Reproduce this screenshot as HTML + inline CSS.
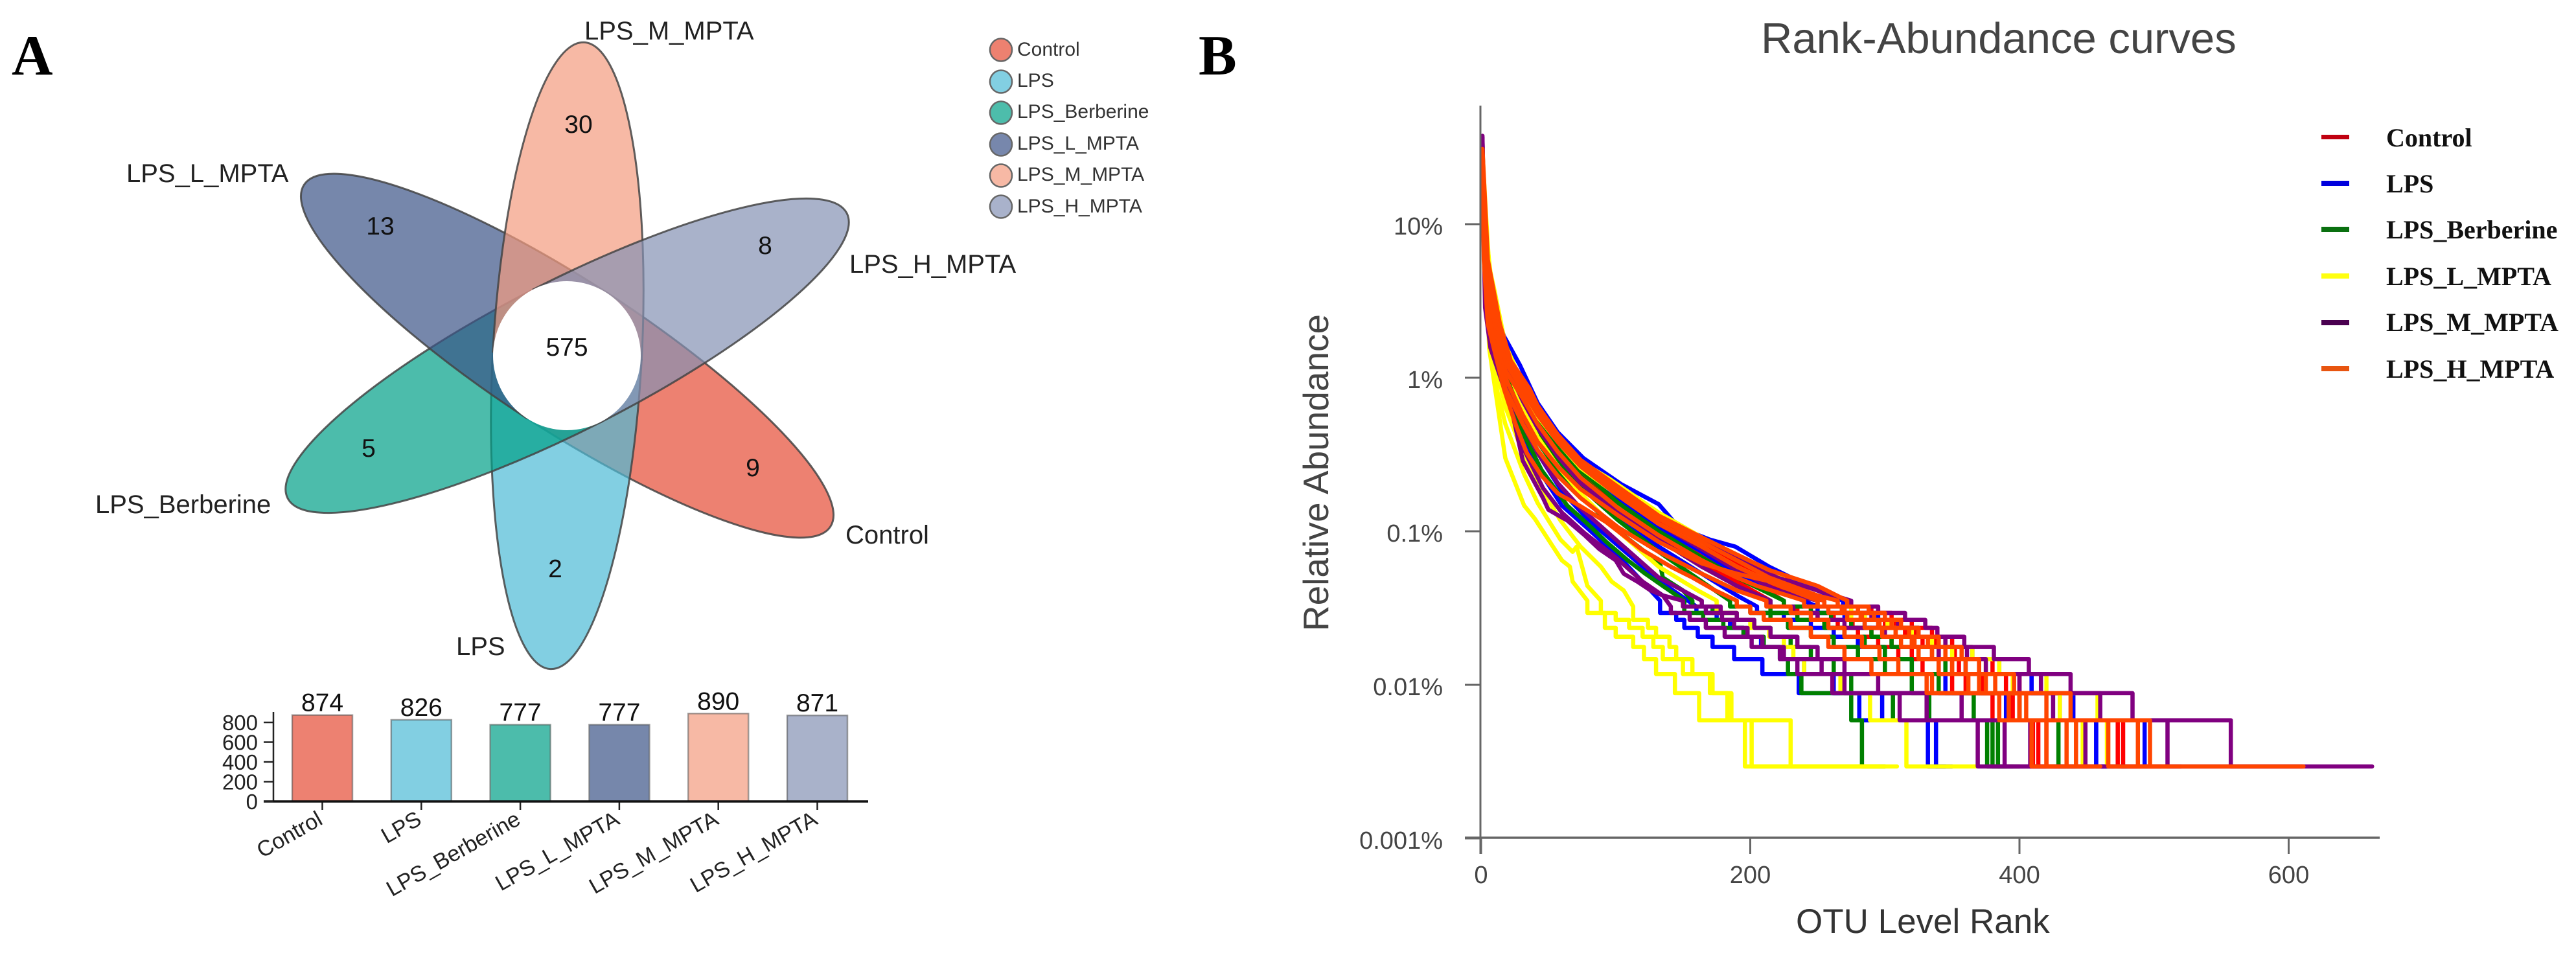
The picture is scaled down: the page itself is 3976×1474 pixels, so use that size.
<!DOCTYPE html>
<html lang="en">
<head>
<meta charset="utf-8">
<title>Venn flower and rank-abundance curves</title>
<style>
html,body{margin:0;padding:0;background:#fff;}
svg{display:block;}
text{font-family:"Liberation Sans",Arial,sans-serif;}
.panel{font-family:"Liberation Serif",serif;font-weight:bold;font-size:88px;fill:#000;}
.lab{font-size:40px;fill:#222;}
.num{font-size:39px;fill:#111;text-anchor:middle;}
.lega{font-size:30px;fill:#333;}
.legb{font-family:"Liberation Serif",serif;font-weight:bold;font-size:40px;fill:#111;}
</style>
</head>
<body>
<svg id="fig" xmlns="http://www.w3.org/2000/svg" width="3976" height="1474" viewBox="0 0 3976 1474">
<rect width="3976" height="1474" fill="#fff"/>
<text class="panel" x="18" y="115">A</text>
<text class="panel" x="1850" y="115">B</text>

<g id="venn" fill-opacity="0.7" stroke="#444" stroke-opacity="0.85" stroke-width="3">
<path fill="#E64B35" transform="translate(875.5 549) rotate(33)" d="M0 -115 A484.5 115 0 0 1 0 115 Z"/>
<path fill="#4DBBD5" transform="translate(875.5 549) rotate(93.1)" d="M0 -115 A484.5 115 0 0 1 0 115 Z"/>
<path fill="#00A087" transform="translate(875.5 549) rotate(153)" d="M0 -115 A484.5 115 0 0 1 0 115 Z"/>
<path fill="#3C5488" transform="translate(875.5 549) rotate(213)" d="M0 -115 A484.5 115 0 0 1 0 115 Z"/>
<path fill="#F39B7F" transform="translate(875.5 549) rotate(-86.9)" d="M0 -115 A484.5 115 0 0 1 0 115 Z"/>
<path fill="#8491B4" transform="translate(875.5 549) rotate(-27)" d="M0 -115 A484.5 115 0 0 1 0 115 Z"/>
</g>
<ellipse cx="875" cy="549" rx="114" ry="115" fill="#fff"/>

<text class="lab" x="902" y="61">LPS_M_MPTA</text>
<text class="lab" x="195" y="281">LPS_L_MPTA</text>
<text class="lab" x="1311" y="421">LPS_H_MPTA</text>
<text class="lab" x="147" y="792">LPS_Berberine</text>
<text class="lab" x="1305" y="839">Control</text>
<text class="lab" x="704" y="1011">LPS</text>

<text class="num" x="893" y="205">30</text>
<text class="num" x="587" y="362">13</text>
<text class="num" x="1181" y="392">8</text>
<text class="num" x="875" y="549">575</text>
<text class="num" x="1162" y="735">9</text>
<text class="num" x="569" y="705">5</text>
<text class="num" x="857" y="891">2</text>

<g stroke="#666" stroke-width="2.5">
<ellipse cx="1545" cy="77" rx="17" ry="17.5" fill="#ED8170"/>
<ellipse cx="1545" cy="126" rx="17" ry="17.5" fill="#82CFE2"/>
<ellipse cx="1545" cy="174" rx="17" ry="17.5" fill="#4DBDAB"/>
<ellipse cx="1545" cy="223" rx="17" ry="17.5" fill="#7787AC"/>
<ellipse cx="1545" cy="271" rx="17" ry="17.5" fill="#F7B9A5"/>
<ellipse cx="1545" cy="319" rx="17" ry="17.5" fill="#A9B2CB"/>
</g>
<text class="lega" x="1570" y="86">Control</text>
<text class="lega" x="1570" y="134">LPS</text>
<text class="lega" x="1570" y="182">LPS_Berberine</text>
<text class="lega" x="1570" y="231">LPS_L_MPTA</text>
<text class="lega" x="1570" y="279">LPS_M_MPTA</text>
<text class="lega" x="1570" y="328">LPS_H_MPTA</text>

<g id="barChart"></g>

<g id="rankChart">
<text x="2718" y="82" font-size="67" fill="#444">Rank-Abundance curves</text>
<text transform="translate(2050 729.5) rotate(-90)" text-anchor="middle" font-size="55" fill="#444">Relative Abundance</text>
<text x="2772" y="1440" font-size="53" fill="#333">OTU Level Rank</text>
</g>

<g>
<rect x="3583" y="208" width="43" height="7" fill="#C00010"/>
<rect x="3583" y="279" width="43" height="8" fill="#0000DD"/>
<rect x="3583" y="350" width="43" height="8" fill="#0A7010"/>
<rect x="3583" y="422" width="43" height="8" fill="#FFFF10"/>
<rect x="3583" y="494" width="43" height="8" fill="#4A0050"/>
<rect x="3583" y="565" width="43" height="8" fill="#E85510"/>
<text class="legb" x="3683" y="226">Control</text>
<text class="legb" x="3683" y="297">LPS</text>
<text class="legb" x="3683" y="368">LPS_Berberine</text>
<text class="legb" x="3683" y="440">LPS_L_MPTA</text>
<text class="legb" x="3683" y="511">LPS_M_MPTA</text>
<text class="legb" x="3683" y="583">LPS_H_MPTA</text>
</g>
</svg>

<script>
/* ---------- bar chart data ---------- */
const barGroups = ["Control","LPS","LPS_Berberine","LPS_L_MPTA","LPS_M_MPTA","LPS_H_MPTA"];
const barValues = [874,826,777,777,890,871];
const barTicks = [0,200,400,600,800];
const barColors = ["#E64B35","#4DBBD5","#00A087","#3C5488","#F39B7F","#8491B4"];

/* ---------- rank-abundance data: each curve is [OTU rank, read count] ---------- */
const readsPerPercent = 340;
const percentTicks = [10,1,0.1,0.01,0.001];
const percentTickLabels = ["10%","1%","0.1%","0.01%","0.001%"];
const rankTicks = [0,200,400,600];

const controlCurves = [
[[1,10300],[2,5000],[5,1800],[10,1000],[18,470],[31,300],[42,205],[57,135],[74,92],[102,60],[132,40],[164,28],[190,21],[220,15],[250,12],[270,11],[285,10],[300,9],[315,8],[328,7],[340,6],[355,5],[372,4],[395,3],[414,2],[430,1]],
[[1,10000],[2,4500],[5,1650],[10,930],[18,440],[31,270],[42,185],[57,120],[74,82],[102,52],[132,34],[164,24],[190,18],[225,12],[245,11],[262,10],[276,9],[290,8],[305,7],[320,6],[340,5],[360,4],[400,3],[420,2],[440,1]],
[[1,10200],[2,5200],[5,1900],[10,1000],[18,480],[31,305],[42,215],[57,140],[74,96],[102,63],[132,42],[164,30],[190,23],[214,18],[250,14],[272,12],[290,11],[305,10],[320,9],[335,8],[350,7],[365,6],[380,5],[400,4],[440,3],[473,2],[490,1]],
[[1,10100],[2,4800],[5,1750],[10,960],[18,450],[31,285],[42,195],[57,128],[74,88],[102,56],[132,37],[164,26],[190,20],[225,14],[255,12],[275,11],[292,10],[308,9],[322,8],[338,7],[352,6],[370,5],[390,4],[430,3],[477,2],[495,1]],
[[1,9800],[2,4200],[5,1500],[10,800],[18,400],[31,240],[42,160],[57,105],[74,72],[102,46],[132,30],[164,21],[190,16],[215,12],[235,11],[250,10],[265,9],[280,8],[295,7],[310,6],[328,5],[350,4],[380,3],[410,2],[425,1]]
];

const lpsCurves = [
[[1,10000],[2,5000],[5,1800],[8,1100],[17,635],[29,409],[42,233],[57,150],[76,102],[104,69],[132,51],[147,36],[170,30],[189,27],[214,20],[250,14],[269,12],[295,10],[310,9],[325,8],[345,7],[365,6],[385,5],[409,4],[430,3],[457,2],[480,1]],
[[1,9500],[2,3000],[5,1300],[8,550],[20,260],[33,130],[45,80],[60,50],[80,35],[105,22],[133,12],[145,10],[151,9],[161,8],[172,7],[188,6],[209,5],[236,4],[281,3],[332,2],[345,1]],
[[1,9800],[2,3200],[5,1400],[8,650],[20,300],[33,160],[45,100],[60,62],[80,40],[105,26],[133,16],[160,11],[175,10],[185,9],[195,8],[208,7],[222,6],[240,5],[262,4],[298,3],[338,2],[350,1]],
[[1,10000],[2,4000],[5,1600],[10,800],[18,400],[31,240],[42,150],[57,100],[74,68],[102,42],[132,27],[164,18],[190,13],[205,11],[225,10],[245,9],[262,8],[280,7],[300,6],[320,5],[345,4],[390,3],[457,2],[470,1]],
[[1,10000],[2,4500],[5,1700],[10,950],[18,480],[31,290],[42,190],[57,125],[74,85],[102,56],[132,36],[164,25],[190,18],[230,13],[250,11],[270,10],[285,9],[300,8],[320,7],[340,6],[360,5],[409,4],[440,3],[493,2],[505,1]]
];

const berberineCurves = [
[[1,9500],[2,3000],[5,1300],[8,600],[18,280],[31,150],[45,85],[64,50],[82,36],[93,29],[109,22],[122,18],[135,15],[151,12],[165,10],[180,9],[195,8],[210,7],[222,6],[228,5],[238,4],[275,3],[283,2],[300,1]],
[[1,9800],[2,3500],[5,1500],[10,700],[18,380],[31,200],[42,130],[57,85],[74,58],[102,34],[133,21],[135,17],[150,14],[157,12],[172,11],[190,10],[203,9],[215,8],[230,7],[245,6],[262,5],[275,4],[306,3],[376,2],[390,1]],
[[1,10000],[2,3600],[5,1550],[10,750],[18,400],[31,225],[42,150],[57,100],[74,66],[102,40],[132,25],[164,16],[185,12],[200,11],[215,10],[228,9],[245,8],[262,7],[280,6],[300,5],[320,4],[333,3],[380,2],[395,1]],
[[1,10000],[2,4000],[5,1700],[10,850],[18,450],[31,260],[42,175],[57,115],[74,78],[102,47],[132,30],[164,20],[190,15],[215,12],[235,10],[255,9],[270,8],[285,7],[300,6],[320,5],[340,4],[366,3],[384,2],[400,1]],
[[1,10000],[2,4200],[5,1750],[10,900],[18,470],[31,280],[42,190],[57,125],[74,85],[102,52],[132,34],[164,23],[190,17],[225,12],[245,11],[260,10],[275,9],[290,8],[305,7],[325,6],[345,5],[370,4],[400,3],[429,2],[445,1]]
];

const lMptaCurves = [
[[1,10500],[3,3000],[4,1500],[6,530],[18,102],[32,50],[40,41],[50,30],[60,22],[66,20],[68,16],[79,12],[92,10],[100,8],[113,7],[121,6],[130,5],[144,4],[162,3],[196,2],[300,1]],
[[1,10500],[3,3500],[4,1700],[6,700],[12,280],[18,170],[32,80],[42,52],[59,30],[68,25],[71,27],[79,15],[89,12],[100,10],[110,9],[120,8],[128,7],[135,6],[157,5],[170,4],[186,3],[230,2],[309,1]],
[[1,10500],[3,3800],[4,1900],[7,800],[12,380],[18,220],[32,105],[42,70],[59,40],[74,27],[89,20],[97,16],[106,14],[113,11],[124,9],[130,8],[140,7],[145,6],[150,5],[172,4],[183,3],[201,2],[295,1]],
[[1,10500],[2,5000],[4,2200],[10,1000],[18,420],[31,220],[42,140],[57,90],[74,60],[102,34],[132,20],[161,14],[175,12],[190,10],[200,9],[214,8],[225,7],[232,6],[240,5],[267,4],[289,3],[316,2],[368,1]],
[[1,10800],[2,7000],[4,3500],[6,1800],[10,1250],[18,560],[31,310],[42,215],[57,140],[74,97],[95,75],[132,45],[164,31],[190,24],[214,19],[250,12],[275,11],[302,9],[320,8],[335,7],[350,6],[375,5],[395,4],[430,3],[447,2],[460,1]],
[[1,10500],[2,6000],[4,2800],[10,950],[18,450],[31,280],[42,190],[57,130],[74,88],[102,58],[132,38],[164,27],[190,20],[214,16],[250,12],[268,11],[285,10],[305,9],[325,8],[345,7],[365,6],[385,5],[420,4],[458,3],[465,2],[475,1]]
];

const mMptaCurves = [
[[1,11000],[2,2500],[3,971],[7,531],[23,205],[31,98],[46,56],[50,47],[64,40],[77,32],[88,26],[100,22],[106,18],[116,16],[126,14],[135,13],[141,11],[155,10],[167,9],[181,8],[201,7],[222,6],[253,5],[261,4],[331,3],[369,2],[420,1]],
[[1,12000],[2,3000],[4,1000],[7,560],[20,250],[31,120],[46,65],[60,45],[77,33],[100,23],[120,16],[135,13],[150,12],[167,11],[179,10],[188,9],[198,8],[209,7],[225,6],[235,5],[270,4],[311,3],[389,2],[450,1]],
[[1,12500],[2,3500],[4,1300],[10,600],[18,330],[31,170],[42,110],[57,70],[74,48],[102,29],[132,17],[164,12],[178,11],[190,10],[203,9],[215,8],[235,7],[250,6],[270,5],[295,4],[357,3],[408,2],[455,1]],
[[1,12000],[2,4000],[4,1500],[10,800],[18,420],[31,240],[42,160],[57,105],[74,70],[102,45],[132,30],[164,20],[190,15],[215,12],[232,11],[250,10],[270,9],[300,8],[320,7],[340,6],[370,5],[400,4],[425,3],[449,2],[520,1]],
[[1,12500],[2,4500],[4,1700],[10,950],[18,470],[31,290],[42,195],[57,130],[74,90],[102,58],[132,38],[164,26],[190,19],[220,14],[250,12],[270,11],[290,10],[310,9],[325,8],[345,7],[361,6],[375,5],[416,4],[460,3],[510,2],[610,1]],
[[1,12800],[2,5000],[4,1800],[10,1000],[18,500],[31,310],[42,215],[57,140],[74,96],[102,64],[132,42],[164,30],[190,23],[220,17],[250,14],[275,12],[295,11],[315,10],[330,9],[339,8],[359,7],[381,6],[407,5],[438,4],[484,3],[557,2],[662,1]]
];

const hMptaCurves = [
[[1,10500],[2,7000],[5,2000],[14,760],[22,440],[36,288],[42,224],[57,145],[74,99],[102,66],[132,43],[164,31],[190,24],[214,19],[250,15],[272,12],[288,11],[300,10],[312,9],[325,8],[340,7],[357,6],[370,5],[396,4],[438,3],[497,2],[611,1]],
[[1,10400],[2,6000],[5,1900],[12,800],[20,440],[31,300],[42,215],[57,140],[74,95],[102,62],[132,41],[164,29],[190,22],[214,17],[250,13],[265,12],[280,11],[292,10],[305,9],[318,8],[332,7],[345,6],[360,5],[382,4],[405,3],[466,2],[500,1]],
[[1,10300],[2,5000],[5,1700],[10,900],[18,430],[31,280],[42,195],[57,130],[74,90],[102,58],[132,38],[164,27],[190,20],[214,16],[250,12],[268,11],[282,10],[295,9],[308,8],[320,7],[335,6],[350,5],[370,4],[400,3],[488,2],[510,1]],
[[1,10500],[2,2000],[5,760],[11,468],[17,288],[25,175],[34,110],[45,78],[57,60],[73,50],[93,39],[119,26],[141,20],[157,17],[174,14],[190,12],[200,11],[210,10],[230,9],[245,8],[258,7],[270,6],[290,5],[331,4],[385,3],[409,2],[425,1]],
[[1,10200],[2,4000],[5,1400],[10,800],[18,380],[31,250],[42,170],[57,112],[74,76],[102,48],[132,32],[164,22],[190,17],[205,15],[240,12],[258,11],[272,10],[285,9],[298,8],[312,7],[325,6],[340,5],[362,4],[400,3],[435,2],[450,1]],
[[1,10000],[2,3200],[5,1150],[10,660],[18,340],[31,195],[42,130],[57,90],[74,64],[102,43],[132,29],[164,21],[190,18],[215,16],[255,12],[270,11],[283,10],[296,9],[308,8],[322,7],[335,6],[350,5],[375,4],[420,3],[442,2],[460,1]],
[[1,10100],[2,2600],[5,950],[10,560],[18,290],[31,170],[42,115],[57,78],[74,56],[102,36],[132,25],[164,18],[190,14],[212,12],[230,11],[245,10],[258,9],[270,8],[283,7],[296,6],[310,5],[335,4],[392,3],[420,2],[435,1]]
];

const curveColors = ["#FF0000","#0000FF","#008000","#FFFF00","#800080","#FF4500"];
const curveGroupNames = ["control","lps","lps-berberine","lps-l-mpta","lps-m-mpta","lps-h-mpta"];
const curveGroups = [controlCurves,lpsCurves,berberineCurves,lMptaCurves,mMptaCurves,hMptaCurves];

/* ---------- helpers ---------- */
const NS = "http://www.w3.org/2000/svg";
function mk(parent, tag, attrs, txt){
  const el = document.createElementNS(NS, tag);
  for (const k in attrs) el.setAttribute(k, attrs[k]);
  if (txt !== undefined) el.textContent = txt;
  parent.appendChild(el);
  return el;
}

/* ---------- bar chart scales ---------- */
const barX = i => 497.5 + 152.8 * i;
const barY = v => 1237 - 0.1525 * v;
const barG = document.getElementById("barChart");

barValues.forEach((v, i) => {
  const cx = barX(i);
  const bar = mk(barG, "rect", {x: cx - 46.5, y: barY(v), width: 93, height: barY(0) - barY(v), fill: barColors[i], "fill-opacity": 0.7, stroke: "#555", "stroke-opacity": 0.55, "stroke-width": 2.5});
  
  
  const val = mk(barG, "text", {x: cx, y: barY(v) - 6, "text-anchor": "middle", "font-size": 39, fill: "#111"}, String(v));
  
  
  const tick = mk(barG, "line", {x1: cx, x2: cx, y1: barY(0), y2: barY(0) + 13, stroke: "#222", "stroke-width": 2.5});
  
  
  const lab = mk(barG, "text", {transform: "translate(" + (cx + 2.5) + " 1271) rotate(-29.5)", "text-anchor": "end", "font-size": 34, fill: "#222"}, barGroups[i]);
  
  
});
const barYAxis = mk(barG, "line", {x1: 422, x2: 422, y1: 1099, y2: 1237, stroke: "#222", "stroke-width": 2.5});


const barXAxis = mk(barG, "line", {x1: 407, x2: 1340, y1: 1237, y2: 1237, stroke: "#111", "stroke-width": 3.5});


barTicks.forEach(t => {
  const tk = mk(barG, "line", {x1: 407, x2: 422, y1: barY(t), y2: barY(t), stroke: "#222", "stroke-width": 2.5});
  
  
  const lb = mk(barG, "text", {x: 398, y: barY(t) + 12, "text-anchor": "end", "font-size": 33, fill: "#222"}, String(t));
  
  
});

/* ---------- rank-abundance scales ---------- */
const rankX = r => 2286 + 2.0775 * r;
const readsY = c => 1183 - 237 * Math.log10(c);
const rankG = document.getElementById("rankChart");

function curvePath(pts){
  let d = "M" + rankX(pts[0][0]).toFixed(1) + " " + readsY(pts[0][1]).toFixed(1);
  for (let i = 1; i < pts.length; i++){
    const prev = pts[i-1], next = pts[i];
    if (prev[1] <= 12) {
      d += " V" + readsY(next[1]).toFixed(1) + " H" + rankX(next[0]).toFixed(1);
    } else {
      d += " L" + rankX(next[0]).toFixed(1) + " " + readsY(next[1]).toFixed(1);
    }
  }
  return d;
}

curveGroups.forEach((curves, g) => {
  curves.forEach((pts, s) => {
    const p = mk(rankG, "path", {d: curvePath(pts), fill: "none", stroke: curveColors[g], "stroke-width": 6.5, "stroke-linejoin": "round", "stroke-linecap": "round"});
    
    
  });
});

const axisColor = "#666";
const rankYAxis = mk(rankG, "line", {x1: 2285, x2: 2285, y1: 163, y2: 1318, stroke: axisColor, "stroke-width": 3});


const rankXAxis = mk(rankG, "line", {x1: 2261, x2: 3673, y1: 1293, y2: 1293, stroke: axisColor, "stroke-width": 3.5});



percentTicks.forEach((pct, i) => {
  const y = readsY(pct * readsPerPercent);
  const tk = mk(rankG, "line", {x1: 2261, x2: 2285, y1: y, y2: y, stroke: axisColor, "stroke-width": 3});
  
  
  const lb = mk(rankG, "text", {x: 2227, y: y + 16, "text-anchor": "end", "font-size": 38, fill: "#444"}, percentTickLabels[i]);
  
  
});
rankTicks.forEach(r => {
  const x = rankX(r);
  const tk = mk(rankG, "line", {x1: x, x2: x, y1: 1293, y2: 1318, stroke: axisColor, "stroke-width": 3});
  
  
  const lb = mk(rankG, "text", {x: x, y: 1363, "text-anchor": "middle", "font-size": 38, fill: "#444"}, String(r));
  
  
});
</script>
</body>
</html>
